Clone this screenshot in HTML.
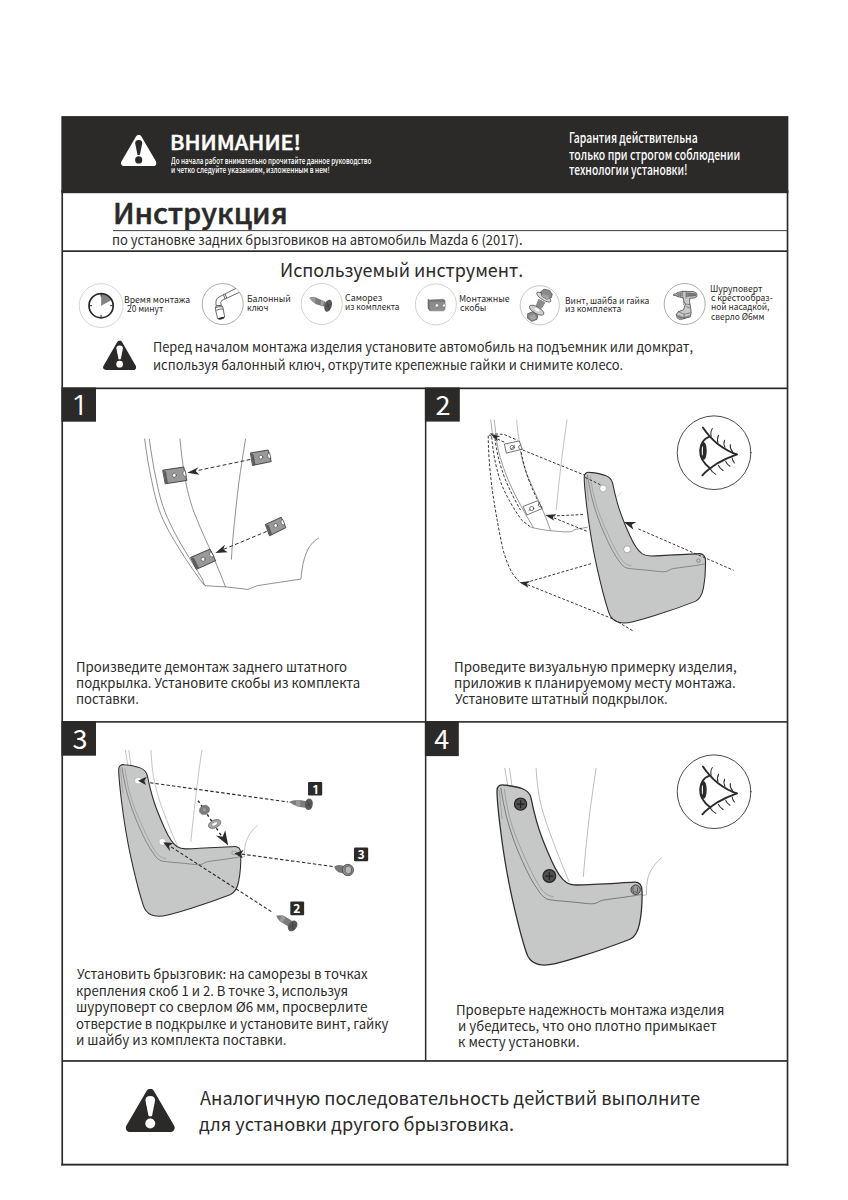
<!DOCTYPE html>
<html lang="ru">
<head>
<meta charset="utf-8">
<title>Инструкция по установке задних брызговиков — Mazda 6 (2017)</title>
<style>
html,body{margin:0;padding:0;background:#fff}
body{width:848px;height:1200px;position:relative;overflow:hidden;font-family:"Noto Sans CJK SC","Liberation Sans",sans-serif;color:#2b2a29}
.page{position:absolute;left:0;top:0;width:848px;height:1200px;background:#fff;overflow:hidden}
.art{position:absolute;left:0;top:0}
.t{position:absolute;white-space:nowrap;transform-origin:0 50%;display:block}
</style>
</head>
<body>
<div class="page">
<svg class="art" width="848" height="1200" viewBox="0 0 848 1200">
<defs>
  <symbol id="tri" viewBox="0 0 36 31.3" preserveAspectRatio="none">
    <polygon points="18,3 3.2,28.3 32.8,28.3" fill="currentColor" stroke="currentColor" stroke-width="6" stroke-linejoin="round"/>
  </symbol>
  <symbol id="bang" viewBox="0 0 36 31.3" preserveAspectRatio="none">
    <path d="M14.5 8.6 Q14.3 5.2 18 5.2 Q21.7 5.2 21.5 8.6 L19.3 19.6 Q18 20.6 16.7 19.6 Z" fill="currentColor"/>
    <circle cx="18" cy="25.1" r="3.6" fill="currentColor"/>
  </symbol>
</defs>
<defs>
  <g id="mud">
    <path d="M72 130 C72 112 84 104 100 106 C130 109 160 114 180 122 C200 130 212 142 216 160 C222 190 230 225 240 260 C255 315 280 375 305 430 C322 468 340 500 365 518 C380 528 395 530 410 530 C480 528 560 523 655 518 C675 517 687 530 687 555 C688 600 685 650 677 690 C673 712 667 728 659 739 C653 748 646 755 636 760 C590 778 500 810 430 832 C390 845 350 856 320 863 C290 870 258 873 235 862 C215 853 203 838 196 815 C178 760 155 670 135 580 C115 490 97 380 85 280 C78 220 72 170 72 130 Z" fill="#c6c7c7" stroke="#2f2e2d" stroke-width="5.4" stroke-linejoin="round"/>
    <path d="M88 118 C95 160 102 200 112 240 C128 300 150 365 180 430 C200 475 225 525 252 560 C262 575 275 588 292 592 C330 598 380 600 430 606 C460 610 480 612 495 606 C505 600 512 596 522 594 C560 588 620 582 685 570" fill="none" stroke="#4a4a4a" stroke-width="2.6"/>
    <path d="M103 122 C108 160 115 200 125 240 C140 300 165 360 195 425 C215 468 240 520 262 550 C275 568 290 576 312 580" fill="none" stroke="#7a7a7a" stroke-width="2.2"/>
    <path d="M80 125 C84 150 88 200 94 250" fill="none" stroke="#7a7a7a" stroke-width="2.2"/>
  </g>
</defs>
<defs>
  <g id="eye" transform="translate(670 410) scale(0.10613)" fill="none" stroke="#2b2a29" stroke-linecap="round">
    <circle cx="415" cy="402.5" r="347" stroke-width="8"/>
    <path d="M310 165 C350 225 400 280 450 320 C510 365 570 400 630 418" stroke-width="18"/>
    <path d="M305 615 C340 575 390 540 450 500 C510 465 570 440 630 418" stroke-width="18"/>
    <path d="M368 253 C320 270 288 320 284 380 C282 440 310 500 378 548" stroke-width="18"/>
    <ellipse cx="317" cy="385" rx="29" ry="84" fill="#2b2a29" stroke="none"/>
    <ellipse cx="305" cy="385" rx="5.5" ry="46" fill="#fff" stroke="none"/>
    <g stroke-width="9.5">
      <path d="M400 175 Q378 205 388 248"/>
      <path d="M458 238 Q440 270 452 312"/>
      <path d="M515 285 Q500 315 518 352"/>
      <path d="M568 325 Q562 360 590 392"/>
      <path d="M380 555 Q395 585 432 606"/>
      <path d="M455 520 Q468 548 500 570"/>
      <path d="M525 485 Q535 510 565 530"/>
      <path d="M585 450 Q588 475 607 500"/>
    </g>
  </g>
</defs>

<!-- frame + lines -->
<g id="frame" fill="#2b2a29" stroke="none">
  <rect x="61.35" y="116.1" width="727" height="77.1"/>
  <rect x="61.4" y="190" width="1.65" height="975.6"/>
  <rect x="786.7" y="190" width="1.65" height="975.6"/>
  <rect x="61.4" y="1163.7" width="726.95" height="1.9"/>
  <rect x="113" y="230.2" width="674.5" height="0.9"/>
  <rect x="62" y="250.3" width="725.5" height="1.7"/>
  <rect x="62" y="387.5" width="725.5" height="1.7"/>
  <rect x="62" y="721.1" width="725.5" height="1.6"/>
  <rect x="62" y="1060.1" width="725.5" height="1.7"/>
  <rect x="424.9" y="388" width="1.5" height="673"/>
  <rect x="61.4" y="387.5" width="34.6" height="34.2"/>
  <rect x="424.9" y="387.5" width="34.9" height="34.1"/>
  <rect x="61.4" y="721.1" width="34.6" height="34.6"/>
  <rect x="424.9" y="721.1" width="33.9" height="35"/>
</g>

<!-- warning triangles -->
<use href="#tri" x="120.8" y="134.8" width="35.8" height="31.3" color="#fff"/>
<use href="#bang" x="120.8" y="134.8" width="35.8" height="31.3" color="#2b2a29"/>
<use href="#tri" x="103" y="340.5" width="33.3" height="29.5" color="#2b2a29"/>
<use href="#bang" x="103" y="340.5" width="33.3" height="29.5" color="#fff"/>
<use href="#tri" x="125.5" y="1088.7" width="49.5" height="43.3" color="#2b2a29"/>
<use href="#bang" x="125.5" y="1088.7" width="49.5" height="43.3" color="#fff"/>
<!-- tool icons -->
<g id="tools">
  <!-- 1 clock -->
  <circle cx="101.1" cy="305.6" r="21.9" fill="none" stroke="#c4c4c4" stroke-width="0.7"/>
  <path d="M101.1 305.7 L101.1 293.6 A12.1 12.1 0 0 1 111.7 299.9 Z" fill="#848383"/>
  <circle cx="101.1" cy="305.7" r="12.1" fill="none" stroke="#2b2a29" stroke-width="1.7"/>
  <g stroke="#2b2a29" stroke-width="1">
    <line x1="101.1" y1="294" x2="101.1" y2="296.6"/>
    <line x1="101.1" y1="314.8" x2="101.1" y2="317.4"/>
    <line x1="89.4" y1="305.7" x2="92" y2="305.7"/>
    <line x1="110.2" y1="305.7" x2="112.8" y2="305.7"/>
  </g>
  <!-- 2 wrench -->
  <circle cx="222.7" cy="304.1" r="20.5" fill="none" stroke="#7e7e7e" stroke-width="0.65"/>
  <g transform="translate(196 278) scale(0.0637)" fill="#fff" stroke="#2b2a29" stroke-width="11" stroke-linejoin="round">
    <path d="M625 165 L420 268 L345 308 Q300 345 318 440 L395 432 Q378 380 405 353 L470 322 L680 225" />
    <path d="M432 263 L457 330 M458 252 L482 316" fill="none"/>
    <path d="M318 440 Q298 458 305 492 L340 640 Q395 660 450 615 L426 478 Q424 448 395 432 Q360 425 318 440Z"/>
    <path d="M305 468 Q360 440 420 452 M316 508 Q370 480 428 486" fill="none"/>
    <ellipse cx="396" cy="630" rx="50" ry="16" transform="rotate(-12 396 630)" fill="#2b2a29" stroke="none"/>
  </g>
  <!-- 3 screw -->
  <circle cx="321.75" cy="304" r="20.5" fill="none" stroke="#bdbdbd" stroke-width="0.7"/>
  <g transform="translate(295 278) scale(0.0637)">
    <path d="M228 314 Q260 292 320 304 L485 378 L462 452 L330 412 Q262 372 228 314Z" fill="#7b7b7b"/>
    <path d="M228 314 Q260 292 320 304 L318 405 Q262 372 228 314Z" fill="#9a9a9a"/>
    <path d="M415 345 L455 362 L435 440 L398 428Z" fill="#a2a2a2"/>
    <ellipse cx="520" cy="435" rx="57" ry="98" transform="rotate(18 520 435)" fill="#5b5b5b"/>
    <path d="M497 368 L545 503 M475 462 L570 408" stroke="#3a3a3a" stroke-width="10" fill="none"/>
  </g>
  <!-- 4 clip -->
  <circle cx="435.9" cy="304.4" r="20.5" fill="none" stroke="#bdbdbd" stroke-width="0.7"/>
  <g transform="translate(409 278) scale(0.0637)">
    <path d="M298 330 L322 347 L540 332 L566 352 L566 490 L546 516 L325 516 L298 472Z" fill="#8d8d8d" stroke="#6a6a6a" stroke-width="8" stroke-linejoin="round"/>
    <path d="M322 347 L545 340 L566 352 L566 372 L330 375Z" fill="#777"/>
    <path d="M298 330 L322 347 L326 516 L298 472Z" fill="#6f6f6f"/>
    <circle cx="438" cy="430" r="26" fill="#fff" stroke="#666" stroke-width="8"/>
    <path d="M566 405 Q528 405 528 430 Q528 456 566 456Z" fill="#fff" stroke="#666" stroke-width="6"/>
  </g>
  <!-- 5 bolt -->
  <circle cx="539.8" cy="305.3" r="19.6" fill="none" stroke="#b0b0b0" stroke-width="0.7"/>
  <g transform="translate(514 278) scale(0.0637)" stroke="#3a3a3a" stroke-width="10" stroke-linejoin="round">
    <!-- nut -->
    <path d="M215 560 L300 525 L375 590 L360 650 L280 680 L210 630Z" fill="#8a8a8a"/>
    <path d="M240 600 L320 570 L350 640 L270 665Z" fill="#a5a5a5" stroke="none"/>
    <!-- shaft -->
    <path d="M385 330 L490 385 L420 500 L335 450Z" fill="#8c8c8c" stroke="none"/>
    <!-- washer -->
    <ellipse cx="355" cy="505" rx="128" ry="52" transform="rotate(30 355 505)" fill="#cfcfcf"/>
    <ellipse cx="362" cy="497" rx="45" ry="18" transform="rotate(30 362 497)" fill="#fff" stroke="none"/>
    <path d="M385 330 L490 385 L440 470 Q380 470 350 430Z" fill="#8c8c8c" stroke="none"/>
    <!-- flange -->
    <ellipse cx="468" cy="300" rx="128" ry="45" transform="rotate(32 468 300)" fill="#d8d8d8"/>
    <!-- head -->
    <path d="M420 215 L470 175 L560 195 L600 260 L585 310 L520 335 L440 290Z" fill="#8a8a8a"/>
    <path d="M440 255 L540 275 L560 320 L520 335 L440 290Z" fill="#a2a2a2" stroke="none"/>
  </g>
  <!-- 6 drill -->
  <circle cx="684.7" cy="304" r="20.5" fill="none" stroke="#8a8a8a" stroke-width="0.7"/>
  <g transform="translate(658 276) scale(0.0637)" stroke="#333" stroke-width="11" stroke-linejoin="round" stroke-linecap="round" fill="#c9c9c9">
    <path d="M250 285 L285 280 L300 262 L385 240 L560 245 L610 275 L612 320 L575 345 L500 350 L495 400 L515 520 L520 580 L505 640 L350 685 L300 660 L288 600 L320 560 L400 530 L430 440 L405 400 L400 350 L360 335 L300 320 L285 308 L250 305Z"/>
    <path d="M440 258 L600 275 L602 318 L440 335Z" fill="#8e8e8e" stroke="none"/>
    <path d="M300 600 L400 640 L505 612 L505 640 L350 685 L300 660Z" fill="#9a9a9a" stroke="none"/>
    <path d="M305 268 L310 318 L360 332 L385 300 L385 242Z" fill="#a5a5a5" stroke="none"/>
    <path d="M300 262 L300 320 M385 240 L390 345 M440 245 L440 345 M320 560 L410 600 L505 580 M410 600 L410 670 M430 440 L500 450 M405 400 Q385 420 400 450 M330 275 L330 322 M355 268 L357 330 M470 270 L585 282 M470 300 L590 305 M300 630 L400 665 L505 640 M440 480 L495 500" fill="none" stroke-width="7"/>
  </g>
</g>

<!-- step 1 illustration -->
<g id="step1" transform="translate(130 430) scale(0.23585)" fill="none" stroke="#4a4a4a" stroke-width="2.6" stroke-linecap="round" stroke-linejoin="round">
  <path d="M62 38 C70 100 80 160 92 215 C105 280 118 330 140 380 C165 435 200 490 235 545 C265 590 290 625 310 652 L320 660"/>
  <path d="M82 38 C90 100 100 160 112 215 C125 280 138 325 160 375 C185 430 215 485 250 540 C275 580 295 610 308 635 L315 655"/>
  <path d="M212 38 C216 90 223 140 231 190 C241 250 255 310 280 370 C304 430 328 480 352 535 C371 580 390 625 405 665"/>
  <path d="M490 38 C480 100 470 160 462 220 C452 300 445 370 438 440 C434 480 432 515 430 548"/>
  <path d="M320 660 C350 662 380 664 405 665 L500 676 L540 660 L725 632 C728 590 735 545 755 505 C768 482 782 468 800 458"/>
  <!-- clips -->
  <g stroke="#2b2a29" stroke-width="3.4">
    <path d="M140 170 L228 157 L241 214 L151 228Z" fill="#999"/>
    <path d="M512 97 L586 85 L599 134 L521 150Z" fill="#999"/>
    <path d="M575 400 L641 370 L661 414 L593 448Z" fill="#999"/>
    <path d="M258 540 L339 505 L363 554 L283 590Z" fill="#999"/>
  </g>
  <g fill="#5c5c5c" stroke="none">
    <path d="M512 97 L521 150 L532 148 L524 104Z"/>
    <path d="M575 400 L593 448 L603 443 L588 404Z"/>
    <path d="M258 540 L283 590 L293 586 L271 543Z"/>
    <path d="M140 170 L151 228 L161 226 L152 176Z"/>
  </g>
  <g stroke="#3a3a3a" stroke-width="2.5" fill="#fff">
    <circle cx="188" cy="192" r="8.5"/>
    <circle cx="555" cy="115" r="8"/>
    <circle cx="618" cy="405" r="8"/>
    <circle cx="310" cy="548" r="8.5"/>
    <path d="M233 172 Q222 176 224 186 Q226 197 238 198Z"/>
    <path d="M591 97 Q581 100 583 110 Q585 120 596 122Z"/>
    <path d="M646 380 Q637 386 641 395 Q645 404 656 402Z"/>
    <path d="M343 516 Q334 522 338 531 Q343 541 355 538Z"/>
  </g>
  <!-- arrows -->
  <g stroke="#2b2a29" stroke-width="4.2" stroke-dasharray="16 10" stroke-linecap="butt">
    <path d="M510 125 L272 175"/>
    <path d="M580 430 L392 508"/>
  </g>
  <g fill="#2b2a29" stroke="none">
    <path d="M243 181 L290 158 L278 174 L294 190Z"/>
    <path d="M362 521 L402 487 L396 507 L415 518Z"/>
  </g>
</g>

<!-- step 2 illustration -->
<g id="step2">
  <!-- arch (zoom 6.667 coords) -->
  <g transform="translate(480 420) scale(0.15)" fill="none" stroke="#555" stroke-width="4" stroke-linecap="round" stroke-linejoin="round">
    <path d="M72 0 L82 85 M95 0 L106 92" stroke="#777"/>
    <path d="M245 0 C248 50 254 100 262 140" stroke="#999"/>
    <path d="M580 0 C565 100 552 200 540 300 C528 400 518 500 508 598" stroke="#999"/>
    <path d="M105 100 C112 150 120 200 135 250 C155 320 185 400 225 480 C255 540 290 605 325 665 L355 715"/>
    <path d="M270 210 C280 260 292 310 312 360 C340 430 375 500 405 570 C430 625 450 680 470 735"/>
    <path d="M340 715 C380 726 430 734 470 738 L560 746 L610 745 L632 730 L716 715"/>
    <!-- dashed ghost -->
    <g stroke="#2b2a29" stroke-width="6.2" stroke-dasharray="19 12" stroke-linecap="butt">
      <path d="M55 105 C55 200 62 300 78 440 C95 560 118 700 150 850 C175 950 215 1040 262 1076"/>
      <path d="M78 112 C85 200 100 300 140 420 C180 520 230 600 280 670 L340 715"/>
      <path d="M100 122 C108 200 128 290 170 400 C200 470 235 540 270 600"/>
      <path d="M70 92 L160 96 L250 135"/>
      <path d="M60 100 L170 152"/>
      <path d="M275 215 C285 270 300 330 325 400 C345 450 365 500 385 535"/>
      <path d="M285 200 L690 365 L800 410"/>
      <path d="M482 640 L690 630"/>
      <path d="M492 652 L720 745"/>
      <path d="M305 1084 L750 955"/>
    </g>
    <g stroke="#333" stroke-width="4.5">
      <path d="M165 160 L262 140 L282 195 L178 220Z"/>
      <path d="M290 575 L385 538 L415 590 L315 632Z"/>
      <circle cx="215" cy="183" r="14"/><path d="M205 200 L230 170"/>
      <path d="M270 165 Q252 172 258 188 Q264 200 280 195"/>
      <circle cx="345" cy="590" r="14"/><path d="M325 605 L335 595"/>
      <path d="M400 548 Q384 556 390 572 Q397 584 412 580"/>
    </g>
    <g fill="#2b2a29" stroke="none">
      <path d="M68 92 L135 108 L112 116 L118 142Z"/>
      <path d="M435 633 L510 628 L485 645 L492 670Z"/>
      <path d="M262 1082 L335 1075 L312 1092 L322 1118Z"/>
    </g>
  </g>
  <!-- right dashed line behind/over mud -->
  <use href="#mud" transform="translate(570 451.5) scale(0.1972)"/>
  <g transform="translate(480 420) scale(0.283)">
    <path d="M560 385 L896 531" fill="none" stroke="#2b2a29" stroke-width="3.3" stroke-dasharray="10 6.5"/>
    <path d="M372 203 L432 232" fill="none" stroke="#2b2a29" stroke-width="3.3" stroke-dasharray="10 6.5"/>
    <path d="M508 360 L552 360 L536 370 L542 388Z" fill="#2b2a29"/>
    <path d="M168 582 L470 703 L545 748" fill="none" stroke="#2b2a29" stroke-width="3.3" stroke-dasharray="10 6.5"/>
    <circle cx="435" cy="242" r="12" fill="#fff" stroke="#666" stroke-width="1.5"/>
    <circle cx="520" cy="457" r="12" fill="#fff" stroke="#666" stroke-width="1.5"/>
    <circle cx="772" cy="497" r="6" fill="#c8c8c8" stroke="#555" stroke-width="2"/>
    <path d="M485 272 L500 255" stroke="#999" stroke-width="1.5"/>
  </g>
</g>

<use href="#eye"/>
<!-- step 3 illustration (zoom 4.711 coords, origin 100,745) -->
<g id="step3">
  <g transform="translate(100 745) scale(0.21227)" fill="none" stroke="#8a8a8a" stroke-width="2.4" stroke-linecap="round">
    <path d="M120 25 L131 98 M136 25 L146 100"/>
    <path d="M240 25 C242 70 246 110 252 150 C262 200 275 250 292 295 C310 345 335 410 365 475"/>
    <path d="M480 25 C470 90 462 150 455 210 C446 290 436 370 428 455"/>
    <path d="M740 380 C715 400 695 430 685 465 C680 490 680 510 681 526 L660 528"/>
  </g>
  <use href="#mud" transform="translate(104.4 743.66) scale(0.1985)"/>
  <g transform="translate(100 745) scale(0.21227)">
    <ellipse cx="180" cy="168" rx="16.5" ry="15" fill="#fff" stroke="#777" stroke-width="1.5"/>
    <circle cx="294" cy="456" r="16" fill="#fff" stroke="#777" stroke-width="1.5"/>
    <ellipse cx="632" cy="508" rx="11" ry="9" fill="#c9c9c9" stroke="#666" stroke-width="2"/>
    <g fill="none" stroke="#2b2a29" stroke-width="5.2" stroke-dasharray="16 10">
      <path d="M236 178 L885 268"/>
      <path d="M335 480 L815 790"/>
      <path d="M668 514 L1100 573"/>
      <path d="M462 262 L575 432" stroke-width="6.5" stroke-dasharray="13 13"/>
    </g>
    <g fill="#2b2a29">
      <path d="M179 168 L220 150 L209 170 L217 189Z"/>
      <path d="M298 458 L345 462 L325 476 L330 500Z"/>
      <path d="M633 511 L676 495 L664 514 L672 533Z"/>
      <path d="M604 474 L546 426 L578 432 L590 402Z"/>
    </g>
    <!-- nut + washer -->
    <path d="M470 300 L482 286 L502 284 L515 296 L514 314 L500 326 L480 326 L469 316Z" fill="#7c7c7c" stroke="#5a5a5a" stroke-width="3"/>
    <circle cx="492" cy="305" r="8" fill="#9a9a9a"/>
    <ellipse cx="540" cy="372" rx="31" ry="18" transform="rotate(-25 540 372)" fill="#a8a8a8" stroke="#555" stroke-width="3"/>
    <ellipse cx="540" cy="372" rx="15" ry="8" transform="rotate(-25 540 372)" fill="#fff" stroke="#666" stroke-width="2"/>
  </g>
  <!-- screws & labels (zoom 5.653 coords, origin 250,760) -->
  <g transform="translate(250 760) scale(0.1769)">
    <!-- screw 1 -->
    <path d="M220 238 Q248 221 290 228 L322 233 L320 272 L282 265 Q245 258 220 238Z" fill="#7c7c7c"/><path d="M258 226 L285 228 L283 266 L262 261Z" fill="#9a9a9a"/>
    <ellipse cx="333" cy="250" rx="22" ry="33" transform="rotate(8 333 250)" fill="#5a5a5a"/>
    <path d="M322 228 L345 272 M318 262 L350 240" stroke="#3a3a3a" stroke-width="4"/>
    <!-- bolt 3 -->
    <path d="M475 603 Q490 590 522 596 L538 600 L530 642 L500 634 Q482 623 475 603Z" fill="#787878"/>
    <circle cx="553" cy="622" r="32" fill="#8e8e8e" stroke="#4a4a4a" stroke-width="5"/>
    <path d="M538 605 L560 598 L575 612 L572 638 L552 646 L538 632Z" fill="#b5b5b5" stroke="#4a4a4a" stroke-width="4"/>
    <!-- screw 2 -->
    <path d="M148 881 Q178 871 208 890 L236 907 L216 941 L187 923 Q158 907 148 881Z" fill="#7c7c7c"/><path d="M180 876 L202 887 L184 921 L166 910Z" fill="#9a9a9a"/>
    <ellipse cx="241" cy="938" rx="24" ry="33" transform="rotate(35 241 938)" fill="#5a5a5a"/>
    <path d="M240 915 L244 962 M222 945 L262 930" stroke="#3a3a3a" stroke-width="4"/>
    <!-- labels -->
    <rect x="328" y="125" width="80" height="76" rx="6" fill="#2b2a29"/>
    <rect x="588" y="495" width="80" height="77" rx="6" fill="#2b2a29"/>
    <rect x="228" y="800" width="78" height="78" rx="6" fill="#2b2a29"/>
  </g>
</g>

<!-- step 4 illustration (zoom 4.24 coords, origin 480,760) -->
<g id="step4">
  <g transform="translate(480 760) scale(0.23585)" fill="none" stroke="#8a8a8a" stroke-width="2.4" stroke-linecap="round">
    <path d="M105 35 L118 110 M125 35 L136 112"/>
    <path d="M238 35 C240 80 245 120 252 160 C262 210 278 260 295 305 C315 360 345 440 378 516"/>
    <path d="M492 35 C482 100 474 160 466 220 C456 300 446 400 438 495"/>
    <path d="M770 415 C745 435 722 465 712 500 C706 530 705 550 706 572 L685 575"/>
  </g>
  <g transform="translate(480 760) scale(0.23585)">
    <use href="#mud"/>
    <circle cx="172" cy="187" r="26" fill="#505050" stroke="#222" stroke-width="5"/>
    <path d="M156 187 L188 187 M172 171 L172 203" stroke="#1e1e1e" stroke-width="5"/>
    <circle cx="294" cy="492" r="27" fill="#505050" stroke="#222" stroke-width="5"/>
    <path d="M278 492 L310 492 M294 476 L294 508" stroke="#1e1e1e" stroke-width="5"/>
    <circle cx="660" cy="550" r="20" fill="#9c9c9c" stroke="#333" stroke-width="4"/>
    <path d="M650 538 Q644 550 652 564 M668 540 L668 560 Q660 566 656 556" fill="none" stroke="#444" stroke-width="3"/>
  </g>
</g>

<use href="#eye" y="339"/>
</svg>
<header class="attention">
  <span class="t h-warn" style="left:170.03px;top:132px;font-size:19.8px;line-height:20px;font-weight:500;color:#fff;transform:scaleX(1.0978);-webkit-text-stroke:0.45px #fff">ВНИМАНИЕ!</span>
  <span class="t h-small" style="left:171.31px;top:156px;font-size:8.3px;line-height:9px;font-weight:500;color:#fff;transform:scaleX(0.7597)">До начала работ внимательно прочитайте данное руководство</span>
  <span class="t h-small" style="left:170.91px;top:165px;font-size:8.3px;line-height:9px;font-weight:500;color:#fff;transform:scaleX(0.7826)">и четко следуйте указаниям, изложенным в нем!</span>
  <span class="t h-right" style="left:568.66px;top:129px;font-size:14.3px;line-height:15px;font-weight:500;color:#fff;transform:scaleX(0.7253)">Гарантия действительна</span>
  <span class="t h-right" style="left:569.38px;top:146px;font-size:14.3px;line-height:15px;font-weight:500;color:#fff;transform:scaleX(0.7320)">только при строгом соблюдении</span>
  <span class="t h-right" style="left:569.39px;top:161px;font-size:14.3px;line-height:15px;font-weight:500;color:#fff;transform:scaleX(0.7171)">технологии установки!</span>
</header>
<section class="heading">
  <span class="t title" style="left:113.04px;top:197px;font-size:28.3px;line-height:29px;font-weight:500;transform:scaleX(1.0235);-webkit-text-stroke:0.5px #2b2a29">Инструкция</span>
  <span class="t subtitle" style="left:112.43px;top:232px;font-size:13.9px;line-height:14px;transform:scaleX(0.9335)">по установке задних брызговиков на автомобиль Mazda 6 (2017).</span>
</section>
<section class="tools">
  <span class="t tools-title" style="left:280.08px;top:259px;font-size:18.7px;line-height:19px;transform:scaleX(0.9590)">Используемый инструмент.</span>
  <span class="t tool" style="left:124.06px;top:294px;font-size:9.2px;line-height:10px;transform:scaleX(0.9416)">Время монтажа</span>
  <span class="t tool" style="left:126.55px;top:303px;font-size:9.2px;line-height:10px;transform:scaleX(0.9100)">20 минут</span>
  <span class="t tool" style="left:247.06px;top:293px;font-size:9.2px;line-height:10px;transform:scaleX(0.9438)">Балонный</span>
  <span class="t tool" style="left:247.32px;top:302px;font-size:9.2px;line-height:10px;transform:scaleX(0.9100)">ключ</span>
  <span class="t tool" style="left:345.02px;top:292px;font-size:9.2px;line-height:10px;transform:scaleX(0.9669)">Саморез</span>
  <span class="t tool" style="left:344.82px;top:301px;font-size:9.2px;line-height:10px;transform:scaleX(0.9025)">из комплекта</span>
  <span class="t tool" style="left:459.05px;top:293px;font-size:9.2px;line-height:10px;transform:scaleX(0.9519)">Монтажные</span>
  <span class="t tool" style="left:459.52px;top:302px;font-size:9.2px;line-height:10px;transform:scaleX(0.9524)">скобы</span>
  <span class="t tool" style="left:565.08px;top:295px;font-size:9.2px;line-height:10px;transform:scaleX(0.9246)">Винт, шайба и гайка</span>
  <span class="t tool" style="left:565.30px;top:303px;font-size:9.2px;line-height:10px;transform:scaleX(0.9322)">из комплекта</span>
  <span class="t tool" style="left:710.31px;top:283px;font-size:9.2px;line-height:10px;transform:scaleX(0.9361)">Шуруповерт</span>
  <span class="t tool" style="left:710.79px;top:292px;font-size:9.2px;line-height:10px;transform:scaleX(0.9170)">с крестообраз-</span>
  <span class="t tool" style="left:710.57px;top:301px;font-size:9.2px;line-height:10px;transform:scaleX(0.9100)">ной насадкой,</span>
  <span class="t tool" style="left:710.79px;top:311px;font-size:9.2px;line-height:10px;transform:scaleX(0.9100)">сверло Ø6мм</span>
</section>
<section class="prepare">
  <span class="t warn" style="left:153.09px;top:339px;font-size:13.6px;line-height:14px;transform:scaleX(0.9426)">Перед началом монтажа изделия установите автомобиль на подъемник или домкрат,</span>
  <span class="t warn" style="left:153.32px;top:357px;font-size:13.6px;line-height:14px;transform:scaleX(0.9469)">используя балонный ключ, открутите крепежные гайки и снимите колесо.</span>
</section>
<section class="step step-1">
  <span class="t num" style="left:70.10px;top:392px;font-size:26.6px;line-height:27px;font-family:NanumGothic,sans-serif;color:#fff;transform:scaleX(1.2000)">1</span>
  <span class="t step" style="left:75.55px;top:659px;font-size:13.6px;line-height:14px;transform:scaleX(0.9694)">Произведите демонтаж заднего штатного</span>
  <span class="t step" style="left:75.79px;top:675px;font-size:13.6px;line-height:14px;transform:scaleX(0.9699)">подкрылка. Установите скобы из комплекта</span>
  <span class="t step" style="left:75.80px;top:691px;font-size:13.6px;line-height:14px;transform:scaleX(0.9620)">поставки.</span>
</section>
<section class="step step-2">
  <span class="t num" style="left:435.45px;top:390px;font-size:27px;line-height:27px;color:#fff">2</span>
  <span class="t step" style="left:454.02px;top:659px;font-size:13.6px;line-height:14px;transform:scaleX(0.9868)">Проведите визуальную примерку изделия,</span>
  <span class="t step" style="left:454.27px;top:675px;font-size:13.6px;line-height:14px;transform:scaleX(0.9816)">приложив к планируемому месту монтажа.</span>
  <span class="t step" style="left:455.26px;top:691px;font-size:13.6px;line-height:14px;transform:scaleX(0.9658)">Установите штатный подкрылок.</span>
</section>
<section class="step step-3">
  <span class="t num" style="left:72.45px;top:724px;font-size:27px;line-height:27px;color:#fff">3</span>
  <span class="t step" style="left:76.76px;top:966px;font-size:13.6px;line-height:14px;transform:scaleX(0.9675)">Установить брызговик: на саморезы в точках</span>
  <span class="t step" style="left:75.79px;top:983px;font-size:13.6px;line-height:14px;transform:scaleX(0.9654)">крепления скоб 1 и 2. В точке 3, используя</span>
  <span class="t step" style="left:75.76px;top:999px;font-size:13.6px;line-height:14px;transform:scaleX(0.9891)">шуруповерт со сверлом Ø6 мм, просверлите</span>
  <span class="t step" style="left:76.28px;top:1016px;font-size:13.6px;line-height:14px;transform:scaleX(0.9623)">отверстие в подкрылке и установите винт, гайку</span>
  <span class="t step" style="left:75.78px;top:1032px;font-size:13.6px;line-height:14px;transform:scaleX(0.9779)">и шайбу из комплекта поставки.</span>
  <span class="t lbl" style="left:310.80px;top:784px;font-size:11.5px;line-height:12px;font-weight:700;font-family:NanumGothic,sans-serif;color:#fff;transform:scaleX(1.4000)">1</span>
  <span class="t lbl" style="left:357.40px;top:848px;font-size:12.2px;line-height:13px;font-weight:700;color:#fff">3</span>
  <span class="t lbl" style="left:293.20px;top:902px;font-size:12.2px;line-height:13px;font-weight:700;color:#fff">2</span>
</section>
<section class="step step-4">
  <span class="t num" style="left:434.30px;top:724px;font-size:27px;line-height:27px;color:#fff">4</span>
  <span class="t step" style="left:455.53px;top:1002px;font-size:13.6px;line-height:14px;transform:scaleX(0.9788)">Проверьте надежность монтажа изделия</span>
  <span class="t step" style="left:458.29px;top:1018px;font-size:13.6px;line-height:14px;transform:scaleX(0.9706)">и убедитесь, что оно плотно примыкает</span>
  <span class="t step" style="left:458.28px;top:1034px;font-size:13.6px;line-height:14px;transform:scaleX(0.9795)">к месту установки.</span>
</section>
<footer class="note">
  <span class="t note" style="left:199.50px;top:1088px;font-size:18.1px;line-height:19px;transform:scaleX(1.0020)">Аналогичную последовательность действий выполните</span>
  <span class="t note" style="left:199.00px;top:1114px;font-size:18.1px;line-height:19px;transform:scaleX(1.0016)">для установки другого брызговика.</span>
</footer>
</div>
</body>
</html>
